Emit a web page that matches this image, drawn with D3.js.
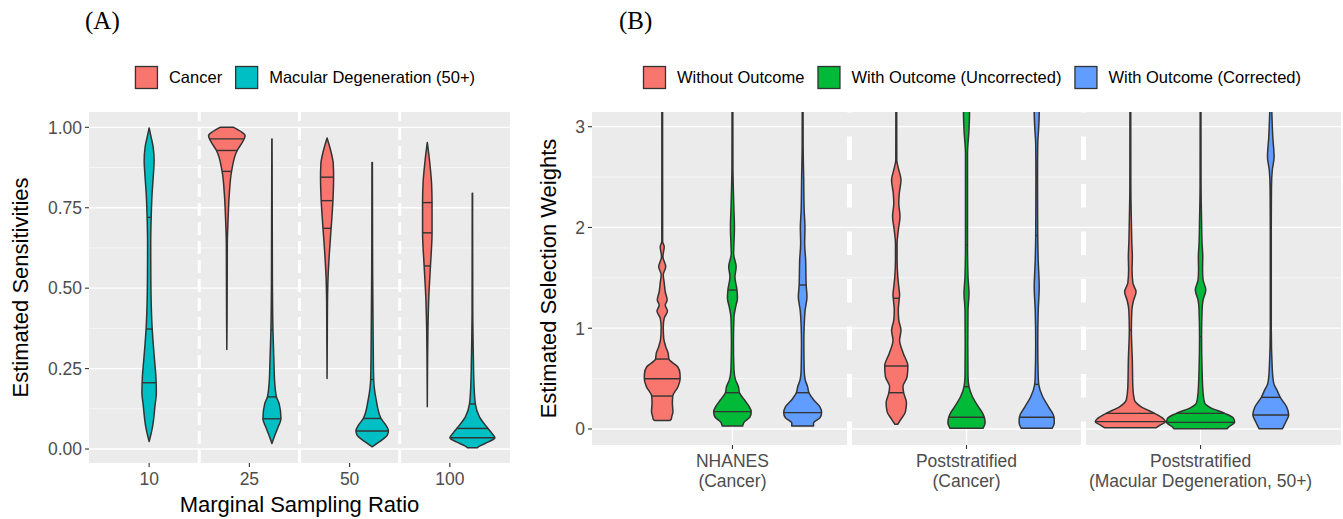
<!DOCTYPE html>
<html>
<head>
<meta charset="utf-8">
<script src="https://cdn.jsdelivr.net/npm/d3@7"></script>
<style>
  body { margin: 0; background: #fff; }
  svg { display: block; font-family: "Liberation Sans", Arial, sans-serif; }
</style>
</head>
<body>
<div id="chart"></div>
<script>
// ---------- Panel A: sensitivities by marginal sampling ratio ----------
const ratios = ['10', '25', '50', '100'];
const diseases = ['Cancer', 'Macular Degeneration (50+)'];
const diseaseColors = ['#F8766D', '#00BFC4'];
const sensTicks = [0, 0.25, 0.5, 0.75, 1];

// violin outlines: [estimate, relative density]
const mac10 = [[0.023, 0], [0.069, 0.15], [0.141, 0.27], [0.173, 0.32], [0.224, 0.30], [0.276, 0.24],
  [0.328, 0.18], [0.38, 0.13], [0.431, 0.10], [0.535, 0.075], [0.638, 0.07], [0.72, 0.09],
  [0.793, 0.13], [0.845, 0.18], [0.897, 0.22], [0.938, 0.18], [0.969, 0.09], [0.998, 0]];
const mac10Q = [0.206, 0.373, 0.72];
const can25 = [[0.309, 0], [0.40, 0.01], [0.5, 0.015], [0.638, 0.022], [0.71, 0.053], [0.793, 0.11],
  [0.863, 0.21], [0.928, 0.46], [0.955, 0.70], [0.974, 0.81], [0.987, 0.62], [1.0, 0.30]];
const can25Q = [0.863, 0.928, 0.964];
const mac25 = [[0.017, 0], [0.043, 0.13], [0.069, 0.28], [0.094, 0.40], [0.141, 0.32], [0.162, 0.2],
  [0.21, 0.12], [0.266, 0.09], [0.369, 0.045], [0.535, 0.02], [0.964, 0.005]];
const mac25Q = [0.094, 0.162, 0.369];
const can50 = [[0.219, 0], [0.35, 0.01], [0.452, 0.018], [0.535, 0.045], [0.617, 0.11], [0.686, 0.18],
  [0.772, 0.26], [0.845, 0.29], [0.886, 0.275], [0.928, 0.16], [0.967, 0]];
const can50Q = [0.686, 0.772, 0.845];
const mac50 = [[0.007, 0], [0.022, 0.31], [0.043, 0.67], [0.056, 0.72], [0.075, 0.6], [0.095, 0.39],
  [0.152, 0.18], [0.216, 0.067], [0.328, 0.045], [0.535, 0.022], [0.891, 0.01]];
const mac50Q = [0.056, 0.095, 0.216];
const can100 = [[0.131, 0], [0.25, 0.01], [0.369, 0.027], [0.473, 0.067], [0.569, 0.14], [0.672, 0.21],
  [0.766, 0.21], [0.824, 0.19], [0.896, 0.10], [0.953, 0]];
const can100Q = [0.569, 0.672, 0.766];
const mac100 = [[0.004, 0.22], [0.007, 0.27], [0.022, 0.71], [0.035, 1.0], [0.05, 0.85], [0.064, 0.69],
  [0.1, 0.31], [0.14, 0.13], [0.2, 0.07], [0.276, 0.045], [0.431, 0.015], [0.795, 0.008]];
const mac100Q = [0.035, 0.064, 0.14];

// ---------- Panel B: selection weights ----------
const designs = [['NHANES', '(Cancer)'], ['Poststratified', '(Cancer)'], ['Poststratified', '(Macular Degeneration, 50+)']];
const methods = ['Without Outcome', 'With Outcome (Uncorrected)', 'With Outcome (Corrected)'];
const methodColors = ['#F8766D', '#00BA38', '#619CFF'];
const weightTicks = [0, 1, 2, 3];

const nhWithout = [[0.083, 0.21], [0.10, 0.26], [0.12, 0.27], [0.172, 0.305], [0.255, 0.29], [0.327, 0.30],
  [0.42, 0.45], [0.499, 0.51], [0.552, 0.505], [0.618, 0.44], [0.694, 0.19], [0.75, 0.17], [0.817, 0.10],
  [0.9, 0.043], [1.015, 0.03], [1.1, 0.057], [1.17, 0.15], [1.23, 0.086], [1.28, 0.14], [1.362, 0.086],
  [1.45, 0.057], [1.53, 0.03], [1.61, 0.10], [1.71, 0.02], [1.809, 0.057], [1.86, 0.012], [3.5, 0.01]];
const nhWithoutQ = [0.327, 0.499, 0.694];
const nhUncorr = [[0.03, 0.29], [0.07, 0.34], [0.12, 0.50], [0.172, 0.535], [0.22, 0.48], [0.29, 0.34],
  [0.36, 0.20], [0.42, 0.17], [0.49, 0.086], [0.59, 0.043], [0.85, 0.029], [1.11, 0.043], [1.21, 0.09],
  [1.3, 0.143], [1.379, 0.129], [1.51, 0.071], [1.61, 0.106], [1.74, 0.034], [1.84, 0.043], [2.0, 0.057],
  [2.17, 0.043], [2.34, 0.029], [2.6, 0.014], [3.5, 0.01]];
const nhUncorrQ = [0.172, 0.36, 1.379];
const nhCorr = [[0.03, 0.31], [0.06, 0.31], [0.11, 0.49], [0.162, 0.54], [0.22, 0.49], [0.29, 0.31],
  [0.36, 0.18], [0.42, 0.14], [0.49, 0.071], [0.59, 0.043], [0.85, 0.034], [1.02, 0.043], [1.18, 0.071],
  [1.31, 0.123], [1.429, 0.10], [1.58, 0.091], [1.67, 0.086], [1.84, 0.057], [2.0, 0.066], [2.17, 0.043],
  [2.5, 0.029], [2.8, 0.014], [3.5, 0.01]];
const nhCorrQ = [0.162, 0.36, 1.429];
const psWithout = [[0.046, 0.04], [0.10, 0.14], [0.17, 0.26], [0.26, 0.29], [0.36, 0.21], [0.42, 0.19],
  [0.52, 0.31], [0.625, 0.33], [0.75, 0.2], [0.88, 0.094], [0.98, 0.134], [1.08, 0.071], [1.18, 0.057],
  [1.297, 0.086], [1.33, 0.094], [1.41, 0.071], [1.51, 0.043], [1.68, 0.023], [1.84, 0.023], [1.97, 0.057],
  [2.11, 0.106], [2.24, 0.071], [2.34, 0.086], [2.47, 0.134], [2.6, 0.05], [2.67, 0.014], [3.5, 0.01]];
const psWithoutQ = [0.36, 0.625, 1.297];
const psUncorr = [[0.007, 0.47], [0.06, 0.53], [0.116, 0.506], [0.155, 0.46], [0.22, 0.34], [0.32, 0.17],
  [0.42, 0.071], [0.52, 0.043], [0.85, 0.037], [1.18, 0.043], [1.35, 0.071], [1.51, 0.043], [1.825, 0.029],
  [2.34, 0.029], [2.73, 0.029], [2.97, 0.071], [3.13, 0.086], [3.3, 0.05], [3.6, 0.01]];
const psUncorrQ = [0.116, 0.42, 1.825];
const psCorr = [[0.007, 0.44], [0.06, 0.50], [0.116, 0.494], [0.22, 0.337], [0.32, 0.17], [0.443, 0.057],
  [0.52, 0.043], [0.85, 0.029], [1.18, 0.043], [1.41, 0.071], [1.67, 0.043], [1.92, 0.029], [2.5, 0.023],
  [2.83, 0.029], [3.0, 0.057], [3.13, 0.071], [3.3, 0.04], [3.6, 0.01]];
const psCorrQ = [0.116, 0.443, 1.92];
const mdWithout = [[0.013, 0.74], [0.04, 0.86], [0.073, 1.0], [0.105, 0.93], [0.155, 0.69], [0.22, 0.31],
  [0.29, 0.114], [0.42, 0.071], [0.68, 0.057], [0.982, 0.029], [1.18, 0.043], [1.27, 0.086], [1.362, 0.163],
  [1.45, 0.071], [1.58, 0.049], [1.71, 0.057], [1.84, 0.043], [2.07, 0.029], [2.4, 0.014], [3.5, 0.01]];
const mdWithoutQ = [0.073, 0.155, 0.982];
const mdUncorr = [[0.003, 0.757], [0.02, 0.8], [0.066, 0.97], [0.105, 0.94], [0.155, 0.69], [0.21, 0.29],
  [0.26, 0.114], [0.36, 0.071], [0.59, 0.043], [0.916, 0.029], [1.18, 0.043], [1.28, 0.071], [1.379, 0.149],
  [1.48, 0.071], [1.58, 0.057], [1.71, 0.063], [1.84, 0.043], [2.07, 0.029], [2.4, 0.014], [3.5, 0.01]];
const mdUncorrQ = [0.066, 0.155, 0.916];
const mdCorr = [[0.003, 0.334], [0.072, 0.43], [0.139, 0.51], [0.22, 0.45], [0.314, 0.27], [0.39, 0.17],
  [0.45, 0.086], [0.59, 0.043], [1.0, 0.014], [2.0, 0.014], [2.4, 0.02], [2.57, 0.043], [2.7, 0.094],
  [2.9, 0.057], [3.1, 0.034], [3.5, 0.01]];
const mdCorrQ = [0.139, 0.314];

// tables: [category index, series index, profile, quantiles]
const violinsA = [
  [0, 1, mac10, mac10Q],
  [1, 0, can25, can25Q], [1, 1, mac25, mac25Q],
  [2, 0, can50, can50Q], [2, 1, mac50, mac50Q],
  [3, 0, can100, can100Q], [3, 1, mac100, mac100Q]
];
const violinsB = [
  [0, 0, nhWithout, nhWithoutQ], [0, 1, nhUncorr, nhUncorrQ], [0, 2, nhCorr, nhCorrQ],
  [1, 0, psWithout, psWithoutQ], [1, 1, psUncorr, psUncorrQ], [1, 2, psCorr, psCorrQ],
  [2, 0, mdWithout, mdWithoutQ], [2, 1, mdUncorr, mdUncorrQ], [2, 2, mdCorr, mdCorrQ]
];

const W = 1343, H = 519;
const ink = '#333333';
const tickGrey = '#4D4D4D';

const svg = d3.select('#chart').append('svg')
  .attr('width', W).attr('height', H)
  .attr('viewBox', `0 0 ${W} ${H}`);

// density at a value, linear between profile points
const densAt = (profile, v) => {
  const i = d3.bisector(d => d[0]).left(profile, v);
  if (i <= 0) return profile[0][1];
  if (i >= profile.length) return profile[profile.length - 1][1];
  const a = profile[i - 1], b = profile[i];
  return a[1] + (b[1] - a[1]) * (v - a[0]) / (b[0] - a[0]);
};

const drawPanel = (opt) => {
  const { id, left, right, top, bottom, xDomain, yDomain, nCat, table, colors,
    yTicks, yMinor, yFmt, dash, dashWidth, vGrid, tickSize } = opt;
  const x = d3.scaleLinear().domain(xDomain).range([left, right]);
  const y = d3.scaleLinear().domain(yDomain).range([bottom, top]);
  const g = svg.append('g');

  g.append('clipPath').attr('id', id)
    .append('rect').attr('x', left).attr('y', top).attr('width', right - left).attr('height', bottom - top);

  g.append('rect').attr('x', left).attr('y', top).attr('width', right - left).attr('height', bottom - top)
    .attr('fill', '#EBEBEB');

  // grid
  g.selectAll('.minor').data(yMinor).enter().append('line')
    .attr('x1', left).attr('x2', right).attr('y1', d => y(d)).attr('y2', d => y(d))
    .attr('stroke', '#fff').attr('stroke-width', 0.6);
  g.selectAll('.major').data(yTicks).enter().append('line')
    .attr('x1', left).attr('x2', right).attr('y1', d => y(d)).attr('y2', d => y(d))
    .attr('stroke', '#fff').attr('stroke-width', 1.3);
  if (vGrid) {
    g.selectAll('.vgrid').data(d3.range(1, nCat + 1)).enter().append('line')
      .attr('x1', d => x(d)).attr('x2', d => x(d)).attr('y1', top).attr('y2', bottom)
      .attr('stroke', '#fff').attr('stroke-width', 1.3);
  }
  // dashed separators between categories
  g.selectAll('.sep').data(d3.range(1.5, nCat, 1)).enter().append('line')
    .attr('x1', d => x(d)).attr('x2', d => x(d)).attr('y1', bottom).attr('y2', top)
    .attr('stroke', '#fff').attr('stroke-width', dashWidth).attr('stroke-dasharray', dash);

  // violins
  const nSeries = colors.length;
  const vg = g.append('g').attr('clip-path', `url(#${id})`);
  const halfMax = 0.45 / nSeries; // half of dodged width
  table.forEach(([cat, s, profile, qs]) => {
    const present = table.filter(t => t[0] === cat).map(t => t[1]);
    const k = present.indexOf(s);
    const n = present.length;
    const center = cat + 1 + (k - (n - 1) / 2) * (0.9 / nSeries);
    const wpx = dd => x(center + dd * halfMax) - x(center);
    const area = d3.area().curve(d3.curveMonotoneY)
      .y(d => y(d[0]))
      .x0(d => x(center) - wpx(d[1]))
      .x1(d => x(center) + wpx(d[1]));
    vg.append('path').datum(profile).attr('d', area)
      .attr('fill', colors[s]).attr('stroke', ink).attr('stroke-width', 1.5)
      .attr('stroke-linejoin', 'round');
    vg.selectAll(null).data(qs).enter().append('line')
      .attr('x1', q => x(center) - wpx(densAt(profile, q)))
      .attr('x2', q => x(center) + wpx(densAt(profile, q)))
      .attr('y1', q => y(q)).attr('y2', q => y(q))
      .attr('stroke', ink).attr('stroke-width', 1.4);
  });

  // y axis
  const ya = g.append('g');
  ya.selectAll('line').data(yTicks).enter().append('line')
    .attr('x1', left - 4).attr('x2', left).attr('y1', d => y(d)).attr('y2', d => y(d))
    .attr('stroke', ink).attr('stroke-width', 1.1);
  ya.selectAll('text').data(yTicks).enter().append('text')
    .attr('x', left - 7).attr('y', d => y(d)).attr('dy', '0.36em')
    .attr('text-anchor', 'end').attr('fill', tickGrey).attr('font-size', tickSize)
    .text(yFmt);
  // x ticks
  g.selectAll('.xt').data(d3.range(1, nCat + 1)).enter().append('line')
    .attr('x1', d => x(d)).attr('x2', d => x(d)).attr('y1', bottom).attr('y2', bottom + 4)
    .attr('stroke', ink).attr('stroke-width', 1.1);
  return { x, y, g };
};

const drawLegend = (labels, colors, cx, top) => {
  const lg = svg.append('g');
  let cur = 0;
  labels.forEach((lab, i) => {
    lg.append('rect').attr('x', cur + 0.5).attr('y', top + 0.5).attr('width', 22).attr('height', 22)
      .attr('fill', colors[i]).attr('stroke', ink).attr('stroke-width', 1.3);
    const t = lg.append('text').attr('x', cur + 34).attr('y', top + 17)
      .attr('font-size', 16.5).attr('fill', '#000').text(lab);
    cur += 34 + t.node().getComputedTextLength() + 13;
  });
  const total = cur - 13;
  lg.attr('transform', `translate(${cx - total / 2},0)`);
};

// ----- Panel A -----
const pA = drawPanel({
  id: 'clipA', left: 89, right: 510, top: 112, bottom: 463,
  xDomain: [0.4, 4.6], yDomain: [-0.0435, 1.0476], nCat: ratios.length, table: violinsA,
  colors: diseaseColors, yTicks: sensTicks, yMinor: [0.125, 0.375, 0.625, 0.875],
  yFmt: d3.format('.2f'), dash: '13,6', dashWidth: 3, vGrid: false, tickSize: 17.5
});
pA.g.selectAll('.xl').data(ratios).enter().append('text')
  .attr('x', (d, i) => pA.x(i + 1)).attr('y', 485)
  .attr('text-anchor', 'middle').attr('fill', tickGrey).attr('font-size', 17.5).text(d => d);
svg.append('text').attr('x', 299.5).attr('y', 512).attr('text-anchor', 'middle')
  .attr('font-size', 22).text('Marginal Sampling Ratio');
svg.append('text').attr('transform', 'translate(28,287.5) rotate(-90)').attr('text-anchor', 'middle')
  .attr('font-size', 22).text('Estimated Sensitivities');
drawLegend(diseases, diseaseColors, 305, 66);

// ----- Panel B -----
const pB = drawPanel({
  id: 'clipB', left: 592, right: 1341, top: 112, bottom: 445,
  xDomain: [0.4, 3.6], yDomain: [-0.159, 3.146], nCat: designs.length, table: violinsB,
  colors: methodColors, yTicks: weightTicks, yMinor: [0.5, 1.5, 2.5],
  yFmt: d3.format('d'), dash: '23.5,24', dashWidth: 5, vGrid: true, tickSize: 17.5
});
const xl = pB.g.selectAll('.xl').data(designs).enter().append('text')
  .attr('text-anchor', 'middle').attr('fill', tickGrey).attr('font-size', 17.5);
xl.append('tspan').attr('x', (d, i) => pB.x(i + 1)).attr('y', 466.5).text(d => d[0]);
xl.append('tspan').attr('x', (d, i) => pB.x(i + 1)).attr('y', 486.5).text(d => d[1]);
svg.append('text').attr('transform', 'translate(556,278.5) rotate(-90)').attr('text-anchor', 'middle')
  .attr('font-size', 22).text('Estimated Selection Weights');
drawLegend(methods, methodColors, 972, 66);

// panel tags
svg.append('text').attr('x', 85).attr('y', 28.5).attr('font-family', '"Liberation Serif", "Times New Roman", serif')
  .attr('font-size', 25).text('(A)');
svg.append('text').attr('x', 619).attr('y', 28.5).attr('font-family', '"Liberation Serif", "Times New Roman", serif')
  .attr('font-size', 25).text('(B)');
</script>
</body>
</html>
